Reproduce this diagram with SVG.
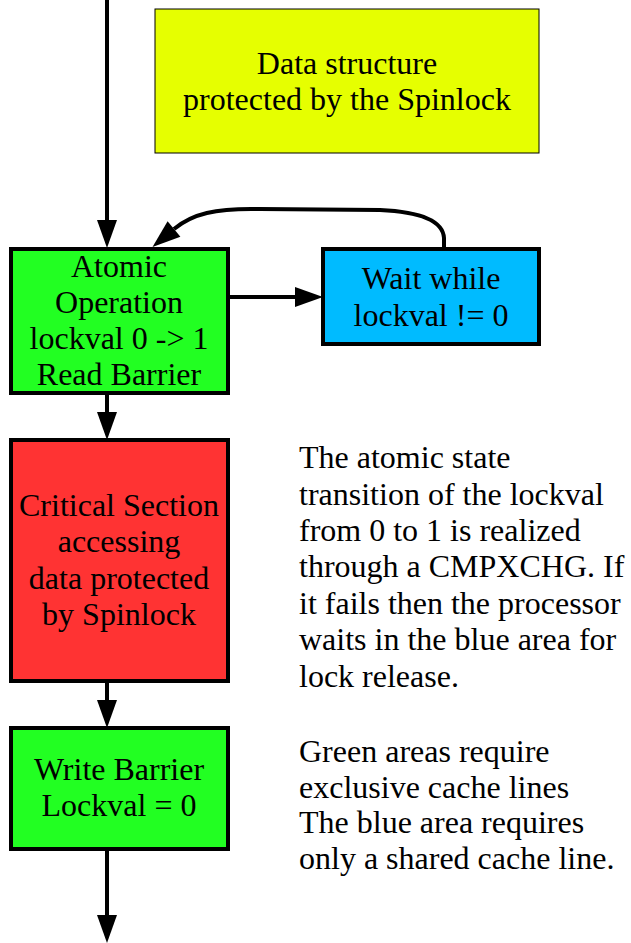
<svg xmlns="http://www.w3.org/2000/svg" width="631" height="943" viewBox="0 0 631 943">
<style>
text{font-family:"Liberation Serif","Times New Roman",serif;font-size:32px;fill:#000}
.c{text-anchor:middle}
.box{stroke:#000;stroke-width:4}
.conn{fill:none;stroke:#000;stroke-width:4}
</style>
<defs>
<marker id="ah" markerUnits="userSpaceOnUse" markerWidth="30" markerHeight="22" refX="0" refY="10" orient="auto" overflow="visible">
<path d="M0,0 L28,10 L0,20 z" fill="#000"/>
</marker>
</defs>
<rect width="631" height="943" fill="#fff"/>
<g id="data">
<rect x="155" y="9" width="384" height="144" fill="#E6FF00" stroke="#000" stroke-width="1"/>
<text class="c" x="347" y="74">Data structure</text>
<text class="c" x="347" y="110">protected by the Spinlock</text>
</g>
<g id="connectors">
<path class="conn" d="M107,0 L107,220" marker-end="url(#ah)"/>
<path class="conn" d="M228,297 L295,297" marker-end="url(#ah)"/>
<path class="conn" d="M444,249 L444,238 C443,222 425,212 380,210 L260,209 C215,208 192,214 174,229" marker-end="url(#ah)"/>
<path class="conn" d="M107,393 L107,412" marker-end="url(#ah)"/>
<path class="conn" d="M107,681 L107,700" marker-end="url(#ah)"/>
<path class="conn" d="M107,849 L107,915" marker-end="url(#ah)"/>
</g>
<g id="atomic">
<rect class="box" x="11" y="249" width="217" height="144" fill="#22FF22"/>
<text class="c" x="119" y="277">Atomic</text>
<text class="c" x="119" y="313">Operation</text>
<text class="c" x="119" y="349">lockval 0 -&gt; 1</text>
<text class="c" x="119" y="385">Read Barrier</text>
</g>
<g id="wait">
<rect class="box" x="323" y="249" width="216" height="95" fill="#00BBFF"/>
<text class="c" x="431" y="289">Wait while</text>
<text class="c" x="431" y="326">lockval != 0</text>
</g>
<g id="critical">
<rect class="box" x="11" y="440" width="217" height="241" fill="#FF3333"/>
<text class="c" x="119" y="516">Critical Section</text>
<text class="c" x="119" y="552">accessing</text>
<text class="c" x="119" y="589">data protected</text>
<text class="c" x="119" y="625">by Spinlock</text>
</g>
<g id="release">
<rect class="box" x="11" y="728" width="217" height="121" fill="#22FF22"/>
<text class="c" x="119" y="780">Write Barrier</text>
<text class="c" x="119" y="816">Lockval = 0</text>
</g>
<g id="note1">
<text x="299" y="468">The atomic state</text>
<text x="299" y="504.5">transition of the lockval</text>
<text x="299" y="541">from 0 to 1 is realized</text>
<text x="299" y="577">through a CMPXCHG. If</text>
<text x="299" y="613.5">it fails then the processor</text>
<text x="299" y="650">waits in the blue area for</text>
<text x="299" y="686.5">lock release.</text>
</g>
<g id="note2">
<text x="299" y="762">Green areas require</text>
<text x="299" y="797.5">exclusive cache lines</text>
<text x="299" y="833">The blue area requires</text>
<text x="299" y="868.5">only a shared cache line.</text>
</g>
</svg>
